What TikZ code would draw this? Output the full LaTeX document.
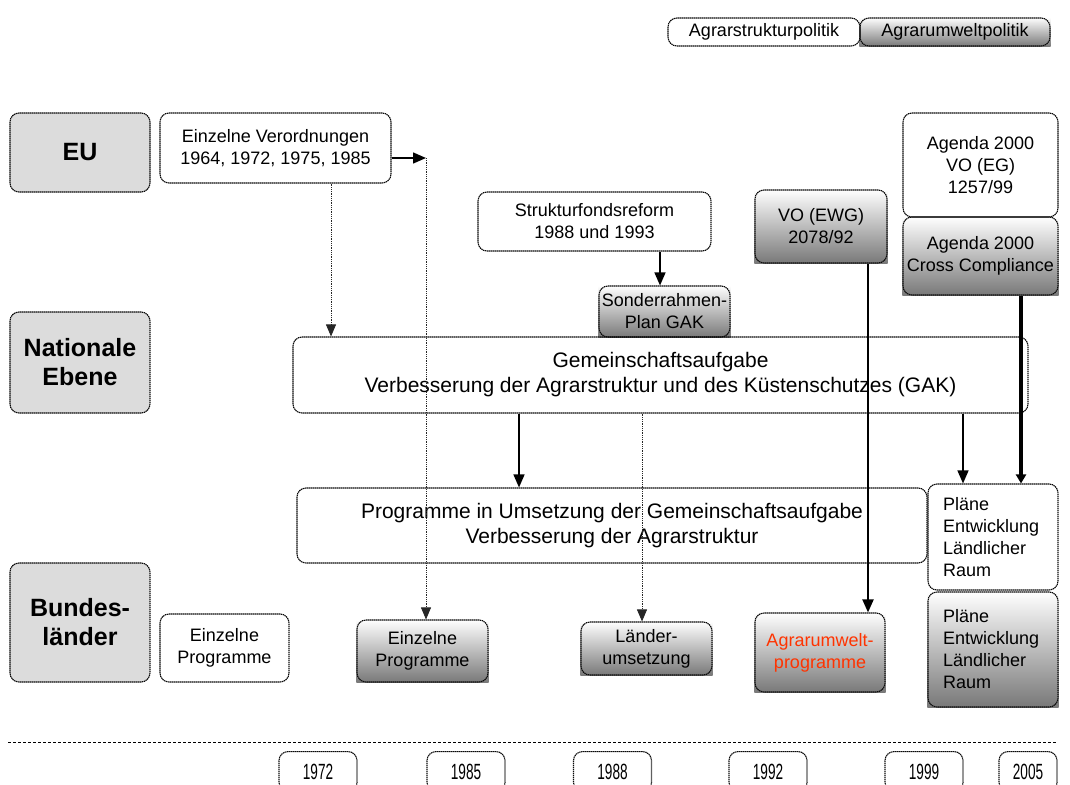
\documentclass[tikz,border=0pt]{standalone}
\usepackage{fontspec}
\usepackage{graphicx}
\setmainfont{Liberation Sans}
\usetikzlibrary{arrows.meta,backgrounds,calc}
\definecolor{lblgray}{RGB}{220,220,220}
\definecolor{gradbot}{RGB}{120,120,120}
\definecolor{redtxt}{RGB}{255,51,0}
\definecolor{bordc}{RGB}{10,10,10}
\newcommand\yrtxt[1]{\scalebox{0.62}[1]{#1}}
\begin{document}
\begin{tikzpicture}[x=1pt,y=-1pt,
  box/.style={draw=bordc, line width=1.1pt, dash pattern=on 1.4pt off 0.6pt, rounded corners=9pt, inner sep=0pt, align=center, font=\fontsize{18}{22}\selectfont},
  lbl/.style={box, fill=lblgray, font=\fontsize{25}{29}\selectfont\bfseries},
  big/.style={box, font=\fontsize{21}{25}\selectfont},
  plan/.style={box, text width=100pt, inner xsep=15pt, align=left},
  yearbox/.style={box, anchor=north, minimum height=40pt, font=\fontsize{22}{22}\selectfont},
  gradfill/.style={top color=white, bottom color=gradbot},
  conn/.style={line width=1.4pt, -{Triangle[length=13pt,width=11pt]}},
  dconn/.style={line width=0.8pt, densely dotted, draw=black!85, -{Triangle[length=12pt,width=10pt]}},
]
\useasboundingbox (0,0) rectangle (1070,784);
\clip (0,0) rectangle (1070,784);

% legend
\node[box, minimum width=192pt, minimum height=28pt] (legA) at (764,32) {Agrarstrukturpolitik};
\node[box, minimum width=190pt, minimum height=28pt] (legB) at (955,32) {Agrarumweltpolitik};

% level labels
\node[lbl, minimum width=140pt, minimum height=79pt] (EU) at (80,152.5) {EU};
\node[lbl, minimum width=140pt, minimum height=101pt] (NAT) at (80,362.5) {Nationale\\Ebene};
\node[lbl, minimum width=140pt, minimum height=119pt] (BL) at (80,622.5) {Bundes-\\länder};

% EU level
\node[box, minimum width=231pt, minimum height=70pt] (VERO) at (275.5,148) {Einzelne Verordnungen\\1964, 1972, 1975, 1985};
\node[box, minimum width=233pt, minimum height=59pt] (SFR) at (594.5,221.5) {Strukturfondsreform\\1988 und 1993};
\node[box, minimum width=131pt, minimum height=51pt] (SRP) at (664.5,311.5) {Sonderrahmen-\\Plan GAK};
\node[box, minimum width=132pt, minimum height=73pt] (VOEWG) at (821,226.5) {VO (EWG)\\2078/92};
\node[box, minimum width=155pt, minimum height=104pt] (AGVO) at (980.5,165) {Agenda 2000\\VO (EG)\\1257/99};
\node[box, minimum width=155pt, minimum height=78pt] (AGCC) at (980.5,256) {Agenda 2000\\Cross Compliance};

% national level
\node[big, minimum width=735pt, minimum height=76pt] (GAK) at (660.5,375) {Gemeinschaftsaufgabe\\Verbesserung der Agrarstruktur und des Küstenschutzes (GAK)};
\node[big, minimum width=630pt, minimum height=75pt] (PROG) at (612,525.5) {Programme in Umsetzung der Gemeinschaftsaufgabe\\Verbesserung der Agrarstruktur};
\node[plan, minimum height=106pt] (PL1) at (993,537) {Pläne\\Entwicklung\\Ländlicher\\Raum};
\node[plan, minimum height=115pt] (PL2) at (993,649.5) {Pläne\\Entwicklung\\Ländlicher\\Raum};

% Länder level
\node[box, minimum width=129pt, minimum height=68pt] (EP1) at (224.5,648) {Einzelne\\Programme};
\node[box, minimum width=131pt, minimum height=62pt] (EP2) at (422.5,651) {Einzelne\\Programme};
\node[box, minimum width=131pt, minimum height=53pt] (LU) at (646.5,648.5) {Länder-\\umsetzung};
\node[box, minimum width=130pt, minimum height=79pt, text=redtxt] (AUP) at (820,652.5) {Agrarumwelt-\\programme};

% gradient backgrounds
\begin{scope}[on background layer]
\foreach \n in {legB,SRP,VOEWG,AGCC,PL2,EP2,LU,AUP}
  \shade[gradfill] (\n.south west) rectangle (\n.north east);
\end{scope}

% connectors
\coordinate (vend) at (426,158);
\draw[conn] (VERO.east |- vend) -- (vend);
\draw[dconn] (vend) -- (vend |- EP2.north);
\coordinate (dx1) at (331,0);
\draw[dconn] (VERO.south -| dx1) -- (GAK.north -| dx1);
\coordinate (sx) at (660,0);
\draw[conn] (SFR.south -| sx) -- (SRP.north -| sx);
\coordinate (vx) at (868,0);
\draw[conn, line width=2pt] (VOEWG.south -| vx) -- (AUP.north -| vx);
\coordinate (cx) at (1021,0);
\draw[line width=3.5pt, -{Triangle[length=9pt,width=10pt]}] (AGCC.south -| cx) -- (PL1.north -| cx);
\coordinate (gx1) at (519,0);
\draw[conn] (GAK.south -| gx1) -- (PROG.north -| gx1);
\coordinate (gx2) at (642,0);
\draw[dconn] (GAK.south -| gx2) -- (LU.north -| gx2);
\coordinate (gx3) at (963,0);
\draw[conn] (GAK.south -| gx3) -- (PL1.north -| gx3);

% timeline
\coordinate (tl0) at (8,742);
\coordinate (tl1) at (1056,742);
\draw[densely dashed, line width=0.8pt] (tl0) -- (tl1);
\node[yearbox, minimum width=78pt] (y1) at (318,751) {\yrtxt{1972}};
\node[yearbox, minimum width=78pt] (y2) at (466,751) {\yrtxt{1985}};
\node[yearbox, minimum width=78pt] (y3) at (612.5,751) {\yrtxt{1988}};
\node[yearbox, minimum width=78pt] (y4) at (768,751) {\yrtxt{1992}};
\node[yearbox, minimum width=78pt] (y5) at (924,751) {\yrtxt{1999}};
\node[yearbox, minimum width=58pt] (y6) at (1028,751) {\yrtxt{2005}};
\end{tikzpicture}
\end{document}
